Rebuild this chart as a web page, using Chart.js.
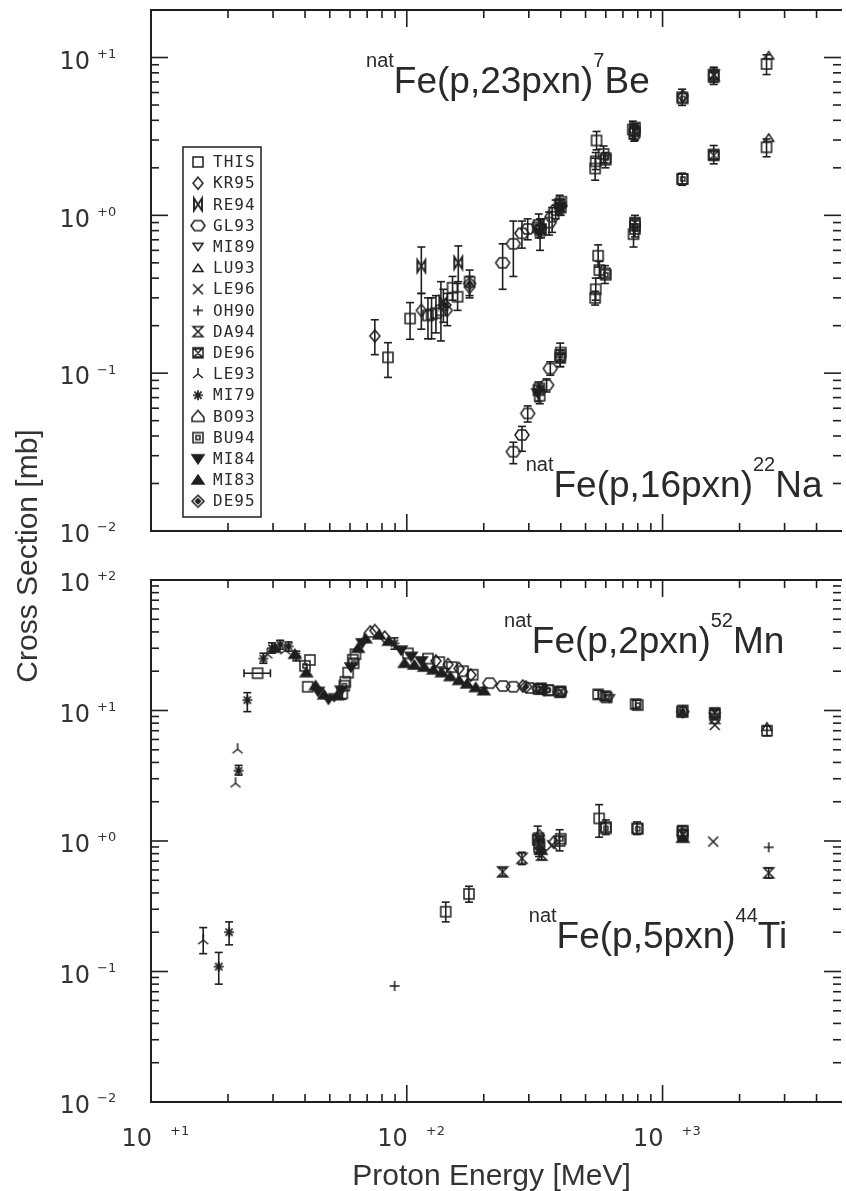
<!DOCTYPE html>
<html>
<head>
<meta charset="utf-8">
<script src="https://cdn.jsdelivr.net/npm/chart.js@4/dist/chart.umd.min.js"></script>
<style>
html, body { margin:0; padding:0; background:#fff; overflow:hidden; width:846px; height:1191px; }
canvas { position:absolute; left:0; top:0; }
</style>
</head>
<body>
<canvas id="c_top" width="846" height="1191"></canvas>
<canvas id="c_bottom" width="846" height="1191"></canvas>
<script>
// ---- data : [E(MeV), sigma(mb), errLow, errHigh, eLow, eHigh] ----
var legendNames = ["THIS","KR95","RE94","GL93","MI89","LU93","LE96","OH90","DA94","DE96","LE93","MI79","BO93","BU94","MI84","MI83","DE95"];

// right edge of the frame sits just outside the picture (~5000 MeV)
var xRange = [10, 4940];
var xTickExp = [1, 2, 3];
var yRangeTop = [0.01, 20];
var yTickExpTop = [-2, -1, 0, 1];
var yRangeBottom = [0.01, 100];
var yTickExpBottom = [-2, -1, 0, 1, 2];

// natFe(p,23pxn)7Be
var be_THIS = [[84.4,0.126,0.094,0.156],[103,0.222,0.164,0.28],[121,0.232,0.165,0.30],[125,0.236,0.165,0.30],
    [130,0.24,0.18,0.31],[136,0.25,0.16,0.38],[151,0.348,0.29,0.41],[158,0.305,0.25,0.37],[176,0.38,0.31,0.45],
    [328,0.87,0.72,1.02],[332,0.80,0.60,0.95],[396,1.18,1.02,1.34],[552,2.98,2.6,3.4],[548,2.2,1.95,2.5],
    [545,1.98,1.67,2.3],[588,2.45,2.15,2.75],[598,2.25,2.0,2.5],[765,3.5,3.05,3.95],[775,3.3,2.95,3.7],
    [1192,5.6,4.97,6.3],[1585,7.5,6.75,8.68],[2550,9.1,7.8,10.4]];
var be_KR95 = [[75,0.172,0.131,0.218],[114,0.25,0.19,0.32],[144,0.25,0.20,0.32],[176,0.35,0.30,0.41],[1200,5.7]];
var be_RE94 = [[114,0.477,0.32,0.63],[159,0.5,0.38,0.64],[139,0.28,0.21,0.34]];
var be_GL93 = [[237,0.5,0.34,0.66],[261,0.66,0.41,0.92],[282,0.77,0.62,0.92],[297,0.82,0.70,0.95],
    [360,0.90,0.75,1.05],[370,0.98,0.78,1.12],[382,1.08,0.95,1.25]];
var be_DE96 = [[335,0.82,0.72,0.95],[400,1.12,1.0,1.26],[780,3.4,3.0,3.8],[1585,7.8,7.0,8.6]];
var be_BU94 = [[325,0.84],[402,1.22],[600,2.3],[780,3.6],[1200,5.5]];
var be_MI84 = [[330,0.78],[395,1.1]];
var be_DE95 = [[176,0.37],[141,0.27],[400,1.15]];
var be_LU93 = [[2600,10.3]];
var be_DA94 = [[1590,7.7]];

// natFe(p,16pxn)22Na
var na_GL93 = [[261,0.0318,0.0267,0.0365],[282,0.0406,0.032,0.046],[297,0.0556,0.049,0.062],
    [352,0.084,0.076,0.092],[364,0.107,0.097,0.118]];
var na_THIS = [[327,0.078,0.066,0.088],[331,0.072,0.064,0.082],[398,0.13,0.11,0.155],[548,0.34,0.29,0.40],
    [545,0.30,0.27,0.33],[560,0.555,0.47,0.65],[566,0.45,0.40,0.51],[595,0.43,0.37,0.48],[770,0.76,0.63,0.88],
    [780,0.86,0.73,1.0],[1192,1.7,1.55,1.85],[1585,2.43,2.12,2.77],[2550,2.7,2.35,3.05]];
var na_BU94 = [[330,0.08],[400,0.135],[600,0.42],[780,0.82],[1200,1.7]];
var na_DE96 = [[398,0.125,0.11,0.14],[1585,2.4],[780,0.9]];
var na_MI84 = [[325,0.075]];
var na_LU93 = [[2600,3.1]];

// natFe(p,2pxn)52Mn
var mn_THIS = [[26.1,19.3,null,null,23.1,29.3],[41.8,24.4],[41,15.2],[56,13.5,12.2,14.8],[57.5,16.6],[59,19.5],
    [61.5,24.5],[63,27],[101,27.4],[121,25],[134,23.5],[150,21.5],[166,20],[181,18.8],
    [560,13.3,12.3,14.3],[597,12.9,12.0,13.8],[785,11.2,10.4,12.0],[1200,10.0,9.3,10.7],
    [1600,9.3,8.6,10.0],[2560,7.0,6.4,7.6]];
var mn_MI79 = [[22.0,3.46,3.2,3.8],[23.8,12,9.8,13.7],[27.5,25,23,27.5],[29.7,30,27.5,33],[32,32,29.5,34.5],
    [34.5,31,28.5,33.5],[37,26,24,28.5],[89.5,32.7,29.5,36]];
var mn_LE93 = [[21.8,5.05],[21.4,2.77],[28.5,27],[33.5,29]];
var mn_MI83 = [[30.5,30],[36.5,27],[40.5,19.5],[44,15.5],[47.5,13.2],[53.5,13],[64.5,30],[69,35.5],[78,38],
    [85,34],[98,23],[107,22.3],[117,21.5],[127,20.5],[137,19.5],[148,18.2],[160,17],[172,16],[186,15],
    [200,14.2,13.4,15]];
var mn_MI84 = [[49.4,12.2],[45,14],[55.5,14.3],[60.5,21.5],[67,33],[95,29],[104,26],[114,24]];
var mn_KR95 = [[75,41],[82,36.5],[130,24],[145,22.5],[160,21],[178,18.7],[284,15.4]];
var mn_GL93 = [[211,16.2],[238,15.4],[261,15.2],[303,14.9],[330,14.6],[362,14.3],[398,13.9]];
var mn_BU94 = [[40,22],[57,15.5],[62,23],[327,14.6],[357,14.3],[396,13.8],[605,12.6],[800,11],[1190,9.8]];
var mn_DE96 = [[335,14.8],[400,14],[1600,9.6]];
var mn_DE95 = [[292,15.2],[345,14.4],[1200,9.8]];
var mn_LE96 = [[1600,7.75]];
var mn_LU93 = [[2560,7.5],[1200,9.5]];
var mn_MI89 = [[52,12.6],[140,19.8],[620,12.4]];
var mn_DA94 = [[1600,8.7]];
var mn_BO93 = [[72,40]];

// natFe(p,5pxn)44Ti
var ti_LE93 = [[16,0.174,0.137,0.217]];
var ti_MI79 = [[18.4,0.109,0.08,0.14],[20.2,0.2,0.16,0.24]];
var ti_OH90 = [[89.6,0.0775],[2600,0.895]];
var ti_THIS = [[142,0.287,0.24,0.34],[175,0.393,0.34,0.45],[325,1.02,0.8,1.3],[329,0.9,0.76,1.08],
    [396,1.0,0.84,1.22],[565,1.49,1.07,1.9],[600,1.28,1.12,1.45],[795,1.25,1.12,1.4],[1195,1.18,1.06,1.3]];
var ti_DA94 = [[237,0.58,0.54,0.62],[282,0.736,0.66,0.82],[337,0.78,0.72,0.85],[2600,0.57,0.52,0.62]];
var ti_LE96 = [[1578,0.99],[370,0.93]];
var ti_BU94 = [[327,1.05],[400,1.04],[600,1.25],[800,1.24],[1200,1.2]];
var ti_DE96 = [[1200,1.12],[330,0.95]];
var ti_MI83 = [[1200,1.05],[335,0.85]];
var ti_KR95 = [[375,0.98],[330,1.1]];

var labelsTop = [
    { at:[69.3, 6.0],    parts:["nat","Fe(p,23pxn)","7","Be"] },
    { at:[291.6, 0.0164], parts:["nat","Fe(p,16pxn)","22","Na"] }
];
var labelsBottom = [
    { at:[240, 27.6],  parts:["nat","Fe(p,2pxn)","52","Mn"] },
    { at:[300, 0.151], parts:["nat","Fe(p,5pxn)","44","Ti"] }
];

// ---- symbols ----
var INK = "#1f1f1f";
var _makeSymbol = function( kind ){
    var c = document.createElement("canvas");
    c.width = 18; c.height = 18;
    var g = c.getContext("2d");
    var x = 9, y = 9, fill = false;
    g.strokeStyle = INK; g.fillStyle = INK; g.lineWidth = 1.5;
    g.beginPath();
    switch( kind ){
    case "THIS": g.rect(x-5, y-5, 10, 10); break;
    case "KR95": g.moveTo(x, y-6); g.lineTo(x+5, y); g.lineTo(x, y+6); g.lineTo(x-5, y); g.closePath(); break;
    case "RE94": g.lineWidth = 1.9; g.moveTo(x-4, y-6); g.lineTo(x-4, y+6); g.lineTo(x+4, y-6); g.lineTo(x+4, y+6); g.closePath(); break;
    case "GL93": g.moveTo(x-7, y); g.lineTo(x-3.5, y-5); g.lineTo(x+3.5, y-5); g.lineTo(x+7, y); g.lineTo(x+3.5, y+5); g.lineTo(x-3.5, y+5); g.closePath(); break;
    case "MI89": g.moveTo(x-5, y-3.5); g.lineTo(x+5, y-3.5); g.lineTo(x, y+4); g.closePath(); break;
    case "LU93": g.moveTo(x-5, y+3.5); g.lineTo(x+5, y+3.5); g.lineTo(x, y-4); g.closePath(); break;
    case "LE96": g.moveTo(x-5, y-5); g.lineTo(x+5, y+5); g.moveTo(x+5, y-5); g.lineTo(x-5, y+5); break;
    case "OH90": g.moveTo(x-5, y); g.lineTo(x+5, y); g.moveTo(x, y-5); g.lineTo(x, y+5); break;
    case "DA94": g.moveTo(x-5, y-5); g.lineTo(x+5, y-5); g.lineTo(x-5, y+5); g.lineTo(x+5, y+5); g.closePath(); break;
    case "DE96": g.rect(x-5, y-5, 10, 10); g.moveTo(x-5, y-5); g.lineTo(x+5, y+5); g.moveTo(x+5, y-5); g.lineTo(x-5, y+5);
                 g.moveTo(x-5, y-4); g.lineTo(x+5, y-4); g.moveTo(x-5, y+4); g.lineTo(x+5, y+4); break;
    case "LE93": g.moveTo(x, y); g.lineTo(x, y-6); g.moveTo(x, y); g.lineTo(x-5, y+4); g.moveTo(x, y); g.lineTo(x+5, y+4); break;
    case "MI79": g.lineWidth = 1.7;
                 g.moveTo(x-5, y); g.lineTo(x+5, y); g.moveTo(x, y-5); g.lineTo(x, y+5);
                 g.moveTo(x-3.6, y-3.6); g.lineTo(x+3.6, y+3.6); g.moveTo(x+3.6, y-3.6); g.lineTo(x-3.6, y+3.6); break;
    case "BO93": g.moveTo(x-6, y+5); g.lineTo(x+6, y+5); g.lineTo(x+6, y+1); g.lineTo(x, y-6); g.lineTo(x-6, y+1); g.closePath(); break;
    case "BU94": g.rect(x-5, y-5, 10, 10); g.rect(x-2, y-2, 4, 4); break;
    case "MI84": g.moveTo(x-6, y-4); g.lineTo(x+6, y-4); g.lineTo(x, y+5); g.closePath(); fill = true; break;
    case "MI83": g.moveTo(x-6, y+4); g.lineTo(x+6, y+4); g.lineTo(x, y-5); g.closePath(); fill = true; break;
    case "DE95": g.moveTo(x, y-6); g.lineTo(x+6, y); g.lineTo(x, y+6); g.lineTo(x-6, y); g.closePath(); g.stroke();
                 g.beginPath(); g.moveTo(x, y-2.5); g.lineTo(x+2.5, y); g.lineTo(x, y+2.5); g.lineTo(x-2.5, y); g.closePath(); fill = true; break;
    }
    if( fill ){ g.fill(); }
    g.stroke();
    return c;
};
var symbols = {};
legendNames.forEach(function(n){ symbols[n] = _makeSymbol(n); });

var _toPoints = function( arr ){
    return arr.map(function(p){
        return { x:p[0], y:p[1], lo:p[2], hi:p[3], xlo:p[4], xhi:p[5] };
    });
};
var _createDatasets = function( sets ){
    var out = [];
    legendNames.forEach(function(n){
        if( !sets[n] ){ return; }
        out.push({
            label : n,
            data  : _toPoints( sets[n] ),
            pointStyle : symbols[n],
            pointRadius : 5,
            showLine : false
        });
    });
    return out;
};

var topSets = {
    THIS : be_THIS.concat(na_THIS), KR95 : be_KR95, RE94 : be_RE94, GL93 : be_GL93.concat(na_GL93),
    DE96 : be_DE96.concat(na_DE96), BU94 : be_BU94.concat(na_BU94), MI84 : be_MI84.concat(na_MI84),
    DE95 : be_DE95, LU93 : be_LU93.concat(na_LU93), DA94 : be_DA94
};
var bottomSets = {
    THIS : mn_THIS.concat(ti_THIS), MI79 : mn_MI79.concat(ti_MI79), LE93 : mn_LE93.concat(ti_LE93),
    MI83 : mn_MI83.concat(ti_MI83), MI84 : mn_MI84, KR95 : mn_KR95.concat(ti_KR95), GL93 : mn_GL93,
    BU94 : mn_BU94.concat(ti_BU94), DE96 : mn_DE96.concat(ti_DE96), DE95 : mn_DE95,
    LE96 : mn_LE96.concat(ti_LE96), LU93 : mn_LU93, MI89 : mn_MI89, DA94 : mn_DA94.concat(ti_DA94),
    BO93 : mn_BO93, OH90 : ti_OH90
};

// ---- plugins ----
var _line = function( ctx, x1, y1, x2, y2 ){
    ctx.beginPath(); ctx.moveTo(x1, y1); ctx.lineTo(x2, y2); ctx.stroke();
};

var errorBars = {
    id : "errorBars",
    afterDatasetsDraw : function( chart ){
        var ctx = chart.ctx, sx = chart.scales.x, sy = chart.scales.y;
        ctx.save();
        ctx.strokeStyle = INK; ctx.lineWidth = 1.6;
        chart.data.datasets.forEach(function(ds){
            ds.data.forEach(function(p){
                var px = sx.getPixelForValue(p.x), py = sy.getPixelForValue(p.y);
                if( p.lo != null ){
                    var y1 = sy.getPixelForValue(p.lo), y2 = sy.getPixelForValue(p.hi);
                    _line(ctx, px, y1, px, y2);
                    _line(ctx, px-4, y1, px+4, y1);
                    _line(ctx, px-4, y2, px+4, y2);
                }
                if( p.xlo != null ){
                    var x1 = sx.getPixelForValue(p.xlo), x2 = sx.getPixelForValue(p.xhi);
                    _line(ctx, x1, py, x2, py);
                    _line(ctx, x1, py-4, x1, py+4);
                    _line(ctx, x2, py-4, x2, py+4);
                }
            });
        });
        ctx.restore();
    }
};

var _drawParts = function( ctx, sx, sy, lab ){
    var x = sx.getPixelForValue(lab.at[0]), y = sy.getPixelForValue(lab.at[1]);
    var big = "37px 'Liberation Sans', Arial, sans-serif", small = "20px 'Liberation Sans', Arial, sans-serif";
    ctx.textAlign = "left"; ctx.textBaseline = "alphabetic";
    lab.parts.forEach(function(s, i){
        var sup = (i % 2 === 0);
        ctx.font = sup ? small : big;
        ctx.fillText(s, x, sup ? y-26 : y);
        x += ctx.measureText(s).width;
    });
};

var frame = {
    id : "frame",
    afterDraw : function( chart, args, opt ){
        var ctx = chart.ctx, a = chart.chartArea, sx = chart.scales.x, sy = chart.scales.y;
        var d, m, v, p, len;
        ctx.save();
        ctx.strokeStyle = INK; ctx.fillStyle = "#333";
        ctx.lineWidth = 2;
        // left, top, bottom lines (the right one falls outside the picture)
        ctx.beginPath();
        ctx.moveTo(a.right + 2, a.top); ctx.lineTo(a.left, a.top);
        ctx.lineTo(a.left, a.bottom); ctx.lineTo(a.right + 2, a.bottom);
        ctx.stroke();
        ctx.lineWidth = 1.6;
        // x ticks (top and bottom edge)
        for( d = 1; d <= 3; d++ ){
            for( m = 1; m <= 9; m++ ){
                v = m * Math.pow(10, d);
                if( v <= sx.min || v >= sx.max ){ continue; }
                p = sx.getPixelForValue(v); len = (m === 1) ? 17 : 8;
                _line(ctx, p, a.bottom, p, a.bottom - len);
                _line(ctx, p, a.top, p, a.top + len);
            }
        }
        // y ticks (left and right edge)
        for( d = -2; d <= 2; d++ ){
            for( m = 1; m <= 9; m++ ){
                v = m * Math.pow(10, d);
                if( v <= sy.min * 1.0001 || v >= sy.max * 0.9999 ){ continue; }
                p = sy.getPixelForValue(v); len = (m === 1) ? 17 : 8;
                _line(ctx, a.left, p, a.left + len, p);
                _line(ctx, a.right + 1, p, a.right + 1 - len, p);
            }
        }
        // y tick labels
        opt.yExp.forEach(function(e){
            var py = sy.getPixelForValue(Math.pow(10, e));
            ctx.textBaseline = "middle";
            ctx.font = "24px 'DejaVu Sans', sans-serif"; ctx.textAlign = "right";
            ctx.fillText("10", a.left - 61, py + 5);
            ctx.font = "13px 'DejaVu Sans', sans-serif"; ctx.textAlign = "left";
            ctx.fillText((e < 0 ? "\u2212" : "+") + Math.abs(e), a.left - 54, py - 3);
        });
        // x tick labels + axis titles
        if( opt.xLabels ){
            xTickExp.forEach(function(e){
                var px = sx.getPixelForValue(Math.pow(10, e));
                ctx.textBaseline = "middle";
                ctx.font = "24px 'DejaVu Sans', sans-serif"; ctx.textAlign = "right";
                ctx.fillText("10", px + 1, a.bottom + 38);
                ctx.font = "13px 'DejaVu Sans', sans-serif"; ctx.textAlign = "left";
                ctx.fillText("+" + e, px + 19, a.bottom + 30);
            });
            ctx.font = "30px 'Liberation Sans', Arial, sans-serif";
            ctx.textAlign = "center"; ctx.textBaseline = "alphabetic";
            ctx.fillText("Proton Energy [MeV]", (a.left + a.right) / 2 - 4, a.bottom + 83);
            ctx.save();
            ctx.translate(37, 556);
            ctx.rotate(-Math.PI / 2);
            ctx.fillText("Cross Section [mb]", 0, 0);
            ctx.restore();
        }
        // reaction labels
        ctx.fillStyle = "#2a2a2a";
        opt.labels.forEach(function(lab){ _drawParts(ctx, sx, sy, lab); });
        // legend box
        if( opt.legend ){
            var bx = a.left + 32, by = a.top + 137, step = 21.2;
            ctx.lineWidth = 1.5;
            ctx.strokeRect(bx, by, 78, 370);
            ctx.font = "16px 'DejaVu Sans Mono', monospace";
            ctx.textAlign = "left"; ctx.textBaseline = "middle";
            if( "letterSpacing" in ctx ){ ctx.letterSpacing = "1px"; }
            legendNames.forEach(function(n, i){
                var cy = by + 15 + i * step;
                ctx.drawImage(symbols[n], bx + 15 - 9, cy - 9);
                ctx.fillText(n, bx + 30, cy + 1);
            });
        }
        ctx.restore();
    }
};

var _makeChart = function( id, sets, yRange, padTop, padBottom, frameOpt ){
    return new Chart(document.getElementById(id), {
        type : "scatter",
        data : { datasets : _createDatasets( sets ) },
        options : {
            responsive : false,
            animation : false,
            events : [],
            layout : { padding : { left:151, right:0, top:padTop, bottom:padBottom } },
            plugins : { legend : { display:false }, tooltip : { enabled:false }, frame : frameOpt },
            scales : {
                x : { type:"logarithmic", min:xRange[0], max:xRange[1], display:false },
                y : { type:"logarithmic", min:yRange[0], max:yRange[1], display:false }
            }
        },
        plugins : [ errorBars, frame ]
    });
};

_makeChart("c_top", topSets, yRangeTop, 10, 1191 - 531,
    { yExp : yTickExpTop, xLabels : false, legend : true, labels : labelsTop });
_makeChart("c_bottom", bottomSets, yRangeBottom, 580, 1191 - 1102,
    { yExp : yTickExpBottom, xLabels : true, legend : false, labels : labelsBottom });
</script>
</body>
</html>
